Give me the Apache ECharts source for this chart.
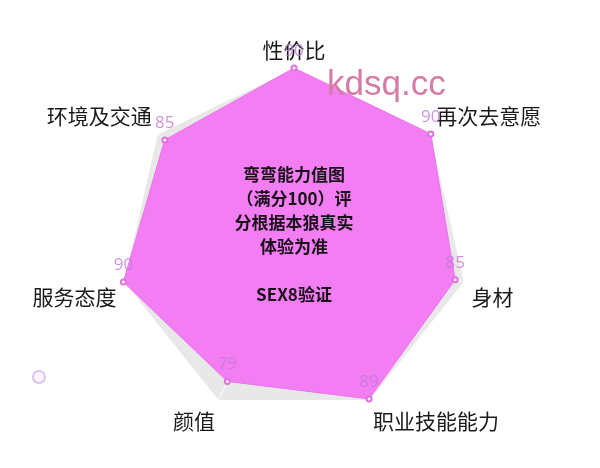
<!DOCTYPE html>
<html><head><meta charset="utf-8">
<script src="https://cdn.jsdelivr.net/npm/echarts@6/dist/echarts.min.js"></script>
<style>html,body{margin:0;padding:0;background:#fff}#c{width:600px;height:468px}</style>
</head><body><div id="c"></div>
<script>
const indicatorNames = ['性价比','环境及交通','服务态度','颜值','职业技能能力','身材','再次去意愿'];
const scores = [90,85,90,79,89,85,90];
const maxScore = 90;
const seriesName = '弯弯能力值';
const siteTitle = 'kdsq.cc';
const centerNote = '弯弯能力值图\n（满分100）评\n分根据本狼真实\n体验为准\n\nSEX8验证';

const startAngle = 90;
const n = indicatorNames.length;
function nameStyleKey(i) {
  const ang = (startAngle + i * 360 / n) * Math.PI / 180;
  const s = Math.sin(ang);
  if (Math.abs(Math.cos(ang)) < 1e-6) return 'mid';
  return s > 0 ? 'up' : 'down';
}

const chart = echarts.init(document.getElementById('c'));
chart.setOption({
  animation: false,
  backgroundColor: '#fff',
  title: [
    {text: siteTitle, left: 327, top: 68, padding: 0,
     textStyle: {color: '#d67aa6', fontSize: 35, fontWeight: 'normal', fontFamily: 'Liberation Sans'}},
    {text: centerNote, left: 294, top: 163, padding: 0, textAlign: 'center',
     textStyle: {color: '#1a101a', fontSize: 17, lineHeight: 24, fontWeight: 'bold', fontFamily: 'Noto Sans CJK SC'}}
  ],
  legend: {
    data: [seriesName], left: 27, top: 365, icon: 'circle', itemWidth: 12, itemHeight: 12,
    formatter: () => '',
    itemStyle: {color: '#fdf6ff', borderColor: '#dcc4ec', borderWidth: 2}
  },
  radar: {
    center: [294, 243], radius: 175, startAngle: startAngle, splitNumber: 5,
    indicator: indicatorNames.map(nm => ({name: nm, min: 0, max: maxScore})),
    axisName: {
      color: '#1a1a1a', fontSize: 21, fontFamily: 'Noto Sans CJK SC',
      formatter: (name) => '{' + nameStyleKey(indicatorNames.indexOf(name)) + '|' + name + '}',
      rich: {
        mid: {fontSize: 21, fontFamily: 'Noto Sans CJK SC', color: '#1a1a1a'},
        up: {fontSize: 21, fontFamily: 'Noto Sans CJK SC', color: '#1a1a1a', padding: [0, 0, 28, 0]},
        down: {fontSize: 21, fontFamily: 'Noto Sans CJK SC', color: '#1a1a1a', padding: [28, 0, 0, 0]}
      }
    },
    nameGap: 7,
    splitArea: {areaStyle: {color: ['#e8e8e8']}},
    splitLine: {lineStyle: {color: '#ffffff', width: 1.5}},
    axisLine: {lineStyle: {color: '#ffffff'}}
  },
  series: [{
    type: 'radar', name: seriesName,
    symbol: 'emptyCircle', symbolSize: 5,
    itemStyle: {color: '#e070e0'},
    lineStyle: {color: '#e46ee4', width: 1},
    areaStyle: {color: '#f374f3', opacity: 0.93},
    label: {show: true, color: 'rgba(195,120,215,0.8)', fontSize: 17, fontFamily: 'Open Sans'},
    data: [{value: scores, name: seriesName}]
  }]
});
</script></body></html>
